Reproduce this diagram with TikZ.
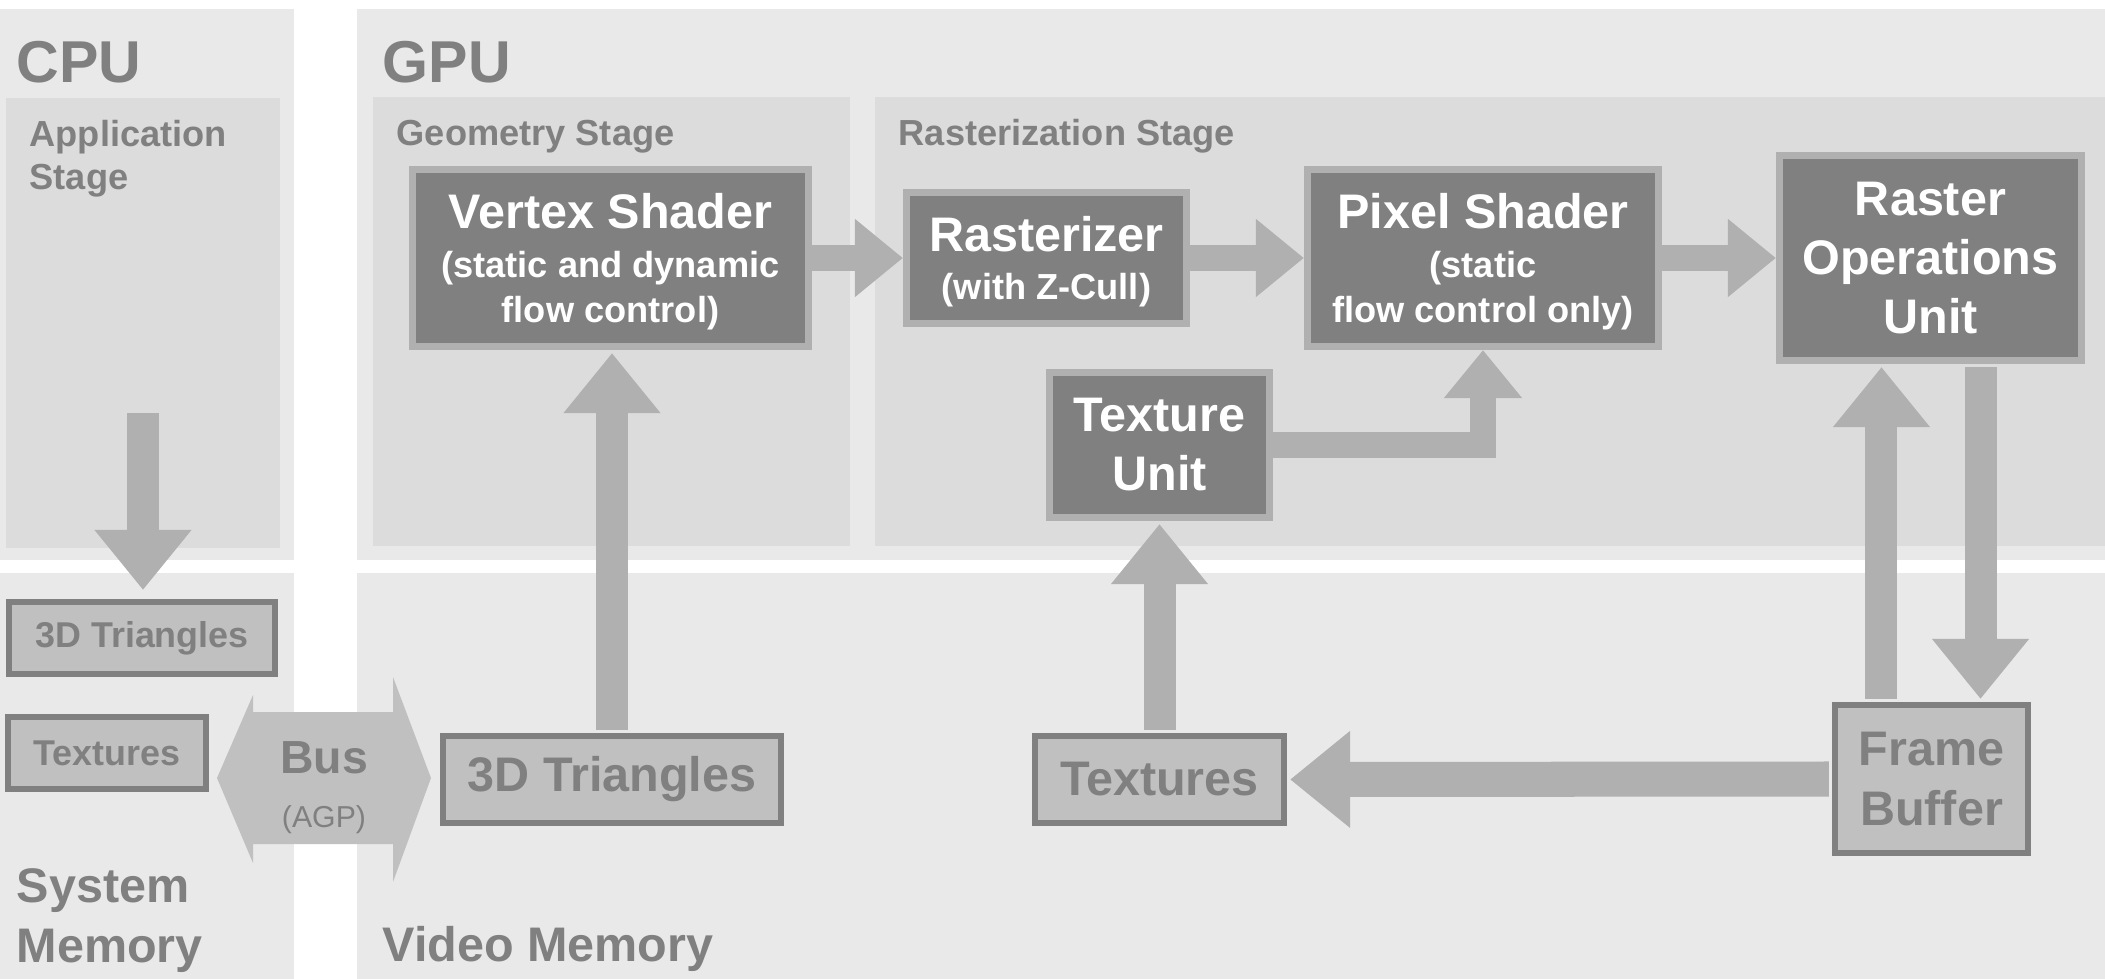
\documentclass[tikz,border=0pt]{standalone}
\usepackage{fontspec}
\setmainfont{Liberation Sans}
\usepackage{tikz}
\usetikzlibrary{arrows.meta,positioning,calc}
\definecolor{grisP}{HTML}{E9E9E9}
\definecolor{grisS}{HTML}{DCDCDC}
\definecolor{grisF}{HTML}{808080}
\definecolor{grisB}{HTML}{B0B0B0}
\definecolor{grisM}{HTML}{C0C0C0}
\definecolor{grisT}{HTML}{808080}
\tikzset{
  proc/.style={rectangle, draw=grisB, fill=grisF, line width=0.07cm, inner sep=0pt,
               align=center, text=white, font=\bfseries\fontsize{10.3}{12.8}\selectfont},
  procmix/.style={proc, text depth=-3.6pt},
  mem/.style={rectangle, draw=grisT, fill=grisM, line width=0.06cm, inner sep=0pt,
              align=center, text=grisT, font=\bfseries\fontsize{13.8}{16.8}\selectfont},
  lbl/.style={anchor=base west, inner sep=0pt, align=left, text=grisT,
              font=\bfseries\fontsize{13.8}{16.8}\selectfont},
  flux/.style={-{Triangle[length=0.48cm, width=0.75cm]}, line width=0.26cm, draw=grisB},
  feed/.style={-{Triangle[length=0.6cm, width=0.93cm]}, line width=0.32cm, draw=grisB,
               shorten <=0.03cm, shorten >=0.03cm},
}

\begin{document}
\begin{tikzpicture}[x=0.01cm, y=-0.01cm]
  \useasboundingbox[fill=white] (0,0) rectangle (2105,979);
  % panels and stages
  \fill[grisP] (0,9) rectangle (294,560);
  \fill[grisP] (357,9) rectangle (2105,560);
  \fill[grisP] (0,573) rectangle (294,979);
  \fill[grisP] (357,573) rectangle (2105,979);
  \fill[grisS] (6,98) rectangle (280,548);
  \fill[grisS] (373,97) rectangle (850,546);
  \fill[grisS] (875,97) rectangle (2105,546);

  % base of a multi-line label = last line
  \node[lbl, font=\bfseries\fontsize{16.8}{20}\selectfont] (cpu) at (16,83) {CPU};
  \node[lbl, font=\bfseries\fontsize{16.8}{20}\selectfont] (gpu) at (382,83) {GPU};
  \node[lbl, font=\bfseries\fontsize{10.3}{12.5}\selectfont] (app) at (29,190) {Application\\Stage};
  \node[lbl, font=\bfseries\fontsize{10.3}{12.5}\selectfont] (geo) at (396,146) {Geometry Stage};
  \node[lbl, font=\bfseries\fontsize{10.3}{12.5}\selectfont] (ras) at (898,146) {Rasterization Stage};
  \node[lbl] (sysmem) at (16,962) {System\\Memory};
  \node[lbl] (vidmem) at (382,961) {Video Memory};

  % pipeline
  \node[procmix, minimum width=3.96cm, minimum height=1.77cm] (vs) at (610.5,258)
    {{\fontsize{13.8}{16.8}\selectfont Vertex Shader}\\[1pt](static and dynamic\\flow control)};
  \node[procmix, minimum width=2.80cm, minimum height=1.31cm] (rast) at (1046.5,258)
    {{\fontsize{13.8}{16.8}\selectfont Rasterizer}\\[1pt](with Z-Cull)};
  \node[procmix, minimum width=3.51cm, minimum height=1.77cm] (ps) at (1483,258)
    {{\fontsize{13.8}{16.8}\selectfont Pixel Shader}\\[1pt](static\\flow control only)};
  \node[proc, minimum width=3.02cm, minimum height=2.05cm,
        font=\bfseries\fontsize{13.8}{16.8}\selectfont] (rop) at (1930.5,258)
    {Raster\\Operations\\Unit};
  \node[proc, minimum width=2.20cm, minimum height=1.45cm,
        font=\bfseries\fontsize{13.8}{16.8}\selectfont] (tu) at (1159.5,445)
    {Texture\\Unit};

  % memories
  \node[mem, minimum width=2.66cm, minimum height=0.72cm,
        font=\bfseries\fontsize{10.2}{12}\selectfont] (st3d) at (142,638) {3D Triangles};
  \node[mem, minimum width=1.98cm, minimum height=0.72cm,
        font=\bfseries\fontsize{10.2}{12}\selectfont] (stex) at (107,753) {Textures};
  \node[mem, minimum width=3.38cm, minimum height=0.87cm] (vt3d) at (612,779.5) {3D Triangles};
  \node[mem, minimum width=2.49cm, minimum height=0.87cm] (vtex) at (1159.5,779.5) {Textures};
  \node[mem, minimum width=1.93cm, minimum height=1.48cm] (fb) at (1931.5,779) {Frame\\Buffer};

  % bus
  \fill[grisM] (217,778) -- (253,695) -- (253,712) -- (393,712) -- (393,677) -- (431,778)
    -- (393,882) -- (393,844) -- (253,844) -- (253,863) -- cycle;
  \node[anchor=base, inner sep=0pt, align=center, text=grisT,
        font=\bfseries\fontsize{13.2}{15.1}\selectfont] (bus) at (324,827)
    {Bus\\{\mdseries\fontsize{8.6}{15.1}\selectfont (AGP)}};

  % arrows
  \coordinate (appout) at (143,410);
  \draw[feed, shorten >=0.09cm] (appout) -- (appout |- st3d.north);
  \draw[feed] (vt3d.north) -- (vt3d.north |- vs.south);
  \draw[flux] (vs) -- (rast);
  \draw[flux] (rast) -- (ps);
  \draw[flux] (ps) -- (rop);
  \draw[flux] (tu.east) -| (ps.south);
  \draw[feed] (vtex.north) -- (tu.south);
  \draw[feed, line width=0.35cm] (fb.west) -- (vtex.east);
  \draw[feed] ([xshift=-0.5cm]fb.north) -- ([xshift=-0.5cm]fb.north |- rop.south);
  \draw[feed] ([xshift=0.49cm]fb.north |- rop.south) -- ([xshift=0.49cm]fb.north);
\end{tikzpicture}
\end{document}
